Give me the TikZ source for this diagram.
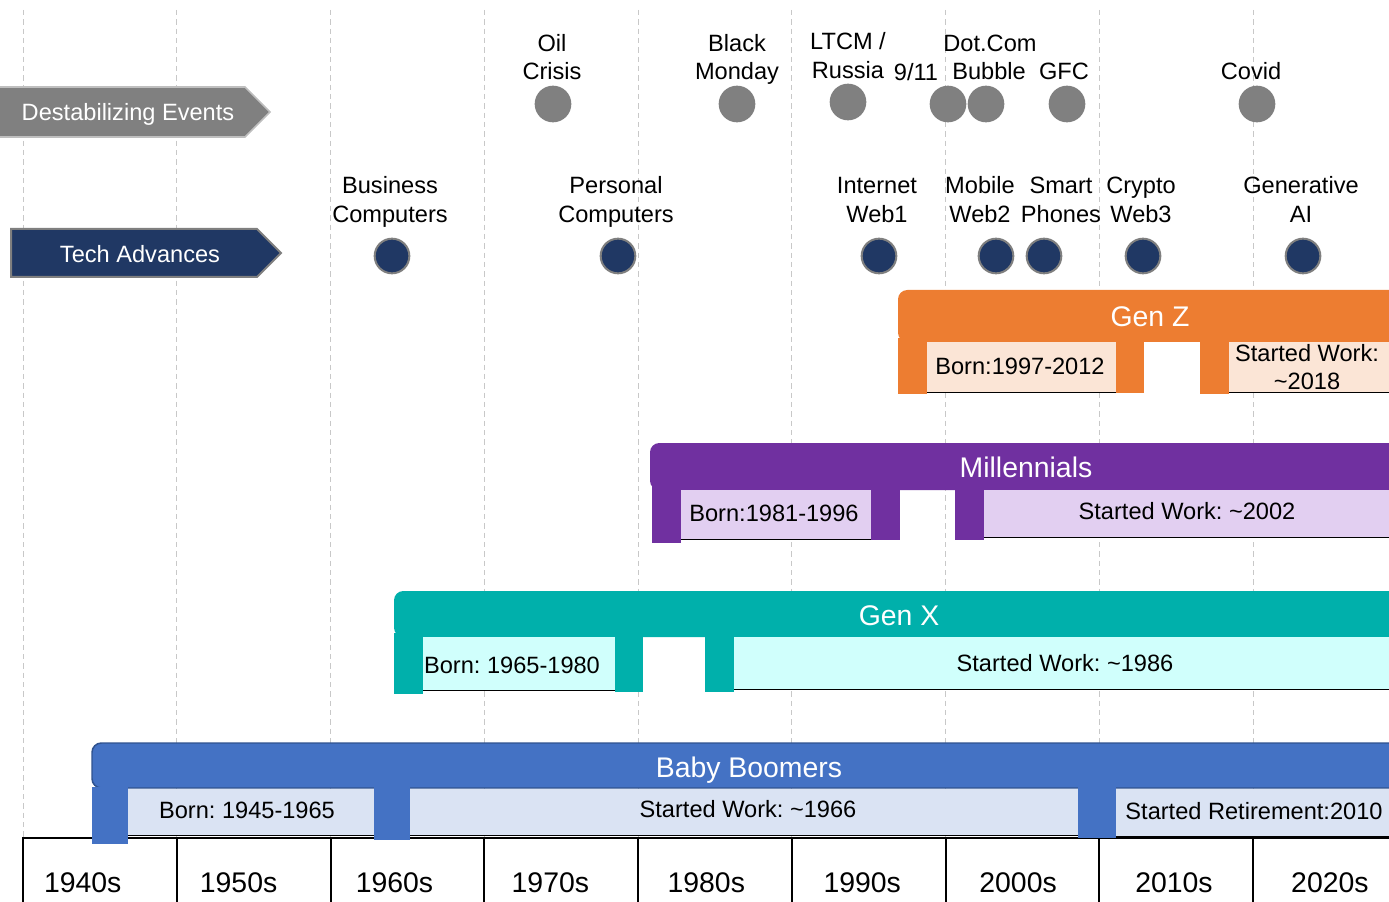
\documentclass[tikz,border=0pt]{standalone}
\usepackage{fontspec}
\setmainfont{Liberation Sans}
\frenchspacing

\definecolor{gridgray}{HTML}{C8C8C8}
\definecolor{evgray}{HTML}{808080}
\definecolor{bannergray}{HTML}{808080}
\definecolor{bannerline}{HTML}{BFBFBF}
\definecolor{navy}{HTML}{203864}
\definecolor{navyline}{HTML}{7F7F7F}
\definecolor{genzc}{HTML}{ED7D31}
\definecolor{genzl}{HTML}{FBE5D6}
\definecolor{millc}{HTML}{7030A0}
\definecolor{milll}{HTML}{E2CFF1}
\definecolor{genxc}{HTML}{00B0AB}
\definecolor{genxl}{HTML}{D0FFFC}
\definecolor{boomc}{HTML}{4472C4}
\definecolor{booml}{HTML}{DAE3F3}
\definecolor{boomline}{HTML}{2F528F}

\begin{document}
\begin{tikzpicture}[x=0.75pt,y=-0.75pt,
  every node/.style={inner sep=0pt,outer sep=0pt},
  lbl/.style={anchor=base,font=\fontsize{17.7}{21}\selectfont},
  big/.style={anchor=base,font=\fontsize{21.3}{25}\selectfont},
  wlbl/.style={lbl,text=white},
  wbig/.style={big,text=white},
  gridline/.style={draw=gridgray,line width=0.75pt,dash pattern=on 4pt off 3pt},
  tabline/.style={draw=black,line width=1.5pt},
  evdot/.style={circle,fill=evgray,minimum size=27.5pt},
  techdot/.style={circle,fill=navy,draw=navyline,line width=1.5pt,minimum size=26pt},
  boxline/.style={draw=black,line width=1pt},
  rbar/.style={rounded corners=7pt},
]
\useasboundingbox (0,0) rectangle (1389,902);
\clip (0,0) rectangle (1389,902);

% decade grid and table
\foreach \i in {0,...,8} {
  \draw[gridline] (23+153.75*\i,10) -- (23+153.75*\i,838);
  \draw[tabline] (23+153.75*\i,838) -- (23+153.75*\i,905);
}
\draw[tabline] (22,838) -- (1395,838);
\foreach \d [count=\i from 0] in {1940s,1950s,1960s,1970s,1980s,1990s,2000s,2010s,2020s}
  \node[big,anchor=base west] (dec\i) at (44+155.9*\i,892) {\d};

% row banners
\draw[fill=bannergray,draw=bannerline,line width=1.2pt]
  (-5,87) -- (245,87) -- (270,112) -- (245,137) -- (-5,137) -- cycle;
\node[wlbl] (destab) at (128,120.5) {Destabilizing Events};
\draw[fill=navy,draw=navyline,line width=1.5pt]
  (11,229) -- (257,229) -- (281,253) -- (257,277) -- (11,277) -- cycle;
\node[wlbl] (techadv) at (140,262.5) {Tech Advances};

% destabilizing events
\node[lbl] (oilA) at (552,51.5) {Oil};
\node[lbl] (oilB) at (552,79.5) {Crisis};
\node[evdot] (oil) at (553,104) {};
\node[lbl] (blkA) at (737,51.5) {Black};
\node[lbl] (blkB) at (737,79.5) {Monday};
\node[evdot] (blk) at (737,104) {};
\node[lbl] (ltcmA) at (848,49.5) {LTCM /};
\node[lbl] (ltcmB) at (848,78.5) {Russia};
\node[evdot] (ltcm) at (848,102) {};
\node[lbl] (nineB) at (916,80.5) {9/11};
\node[evdot] (nine) at (948,104) {};
\node[lbl] (dotA) at (990,51.5) {Dot.Com};
\node[lbl] (dotB) at (989,79.5) {Bubble};
\node[evdot] (dot) at (986,104) {};
\node[lbl] (gfcB) at (1064,79.5) {GFC};
\node[evdot] (gfc) at (1067,104) {};
\node[lbl] (covB) at (1251,79.5) {Covid};
\node[evdot] (cov) at (1257,104) {};

% tech advances
\foreach \nm/\lx/\dx/\la/\lb in {bus/390/392/Business/Computers,
    pc/616/618/Personal/Computers, web1/877/879/Internet/Web1,
    web2/980/996/Mobile/Web2, phone/1061/1044/Smart/Phones,
    web3/1141/1143/Crypto/Web3, genai/1301/1303/Generative/AI} {
  \node[lbl] (\nm A) at (\lx,193.5) {\la};
  \node[lbl] (\nm B) at (\lx,222.5) {\lb};
  \node[techdot] (\nm) at (\dx,256) {};
}

% Gen Z
\fill[genzc,rbar] (898,290) rectangle (1430,342);
\fill[genzl] (927,342) rectangle (1116,392);
\draw[boxline] (927,392.5) -- (1131,392.5);
\fill[genzl] (1229,342) rectangle (1430,392);
\draw[boxline] (1229,392.5) -- (1430,392.5);
\fill[genzc] (898,338) rectangle (927,394);
\fill[genzc] (1116,338) rectangle (1144,393);
\fill[genzc] (1200,338) rectangle (1229,394);
\node[wbig] (genz) at (1150,327) {Gen Z};
\node[lbl] (genzborn) at (1020,374.5) {Born:1997-2012};
\node[lbl] (genzworkA) at (1307,361) {Started Work:};
\node[lbl] (genzworkB) at (1307,389.5) {\textasciitilde 2018};

% Millennials
\fill[millc,rbar] (650,443) rectangle (1430,490);
\fill[milll] (681,490) rectangle (871,539);
\draw[boxline] (681,539.5) -- (871,539.5);
\fill[milll] (984,490) rectangle (1430,537);
\draw[boxline] (984,537.5) -- (1430,537.5);
\fill[millc] (652,486) rectangle (681,543);
\fill[millc] (871,486) rectangle (900,540);
\fill[millc] (955,486) rectangle (984,540);
\node[wbig] (mill) at (1026,477) {Millennials};
\node[lbl] (millborn) at (774,521.7) {Born:1981-1996};
\node[lbl] (millwork) at (1187,519) {Started Work: \textasciitilde 2002};

% Gen X
\fill[genxc,rbar] (394,591) rectangle (1430,637);
\fill[genxl] (423,637) rectangle (615,690);
\draw[boxline] (423,690.5) -- (615,690.5);
\fill[genxl] (734,637) rectangle (1430,689);
\draw[boxline] (734,689.5) -- (1430,689.5);
\fill[genxc] (394,633) rectangle (423,694);
\fill[genxc] (615,633) rectangle (643,692);
\fill[genxc] (705,633) rectangle (734,692);
\node[wbig] (genx) at (899,625) {Gen X};
\node[lbl] (genxborn) at (512,673) {Born: 1965-1980};
\node[lbl] (genxwork) at (1065,671) {Started Work: \textasciitilde 1986};

% Baby Boomers
\draw[fill=boomc,draw=boomline,line width=1.1pt,rbar] (92,743) rectangle (1430,788);
\fill[booml] (128,789) rectangle (374,835);
\draw[boxline] (128,835.5) -- (374,835.5);
\fill[booml] (410,789) rectangle (1078,835);
\draw[boxline] (410,835.5) -- (1078,835.5);
\fill[booml] (1116,789) rectangle (1430,836);
\draw[boxline] (1116,836.5) -- (1430,836.5);
\fill[boomc] (92,787) rectangle (128,844);
\fill[boomc] (374,787) rectangle (410,840);
\fill[boomc] (1078,787) rectangle (1116,838);
\node[wbig] (boom) at (749,777) {Baby Boomers};
\node[lbl] (boomborn) at (247,818) {Born: 1945-1965};
\node[lbl] (boomwork) at (748,817.5) {Started Work: \textasciitilde 1966};
\node[lbl] (boomret) at (1254,819) {Started Retirement:2010};
\end{tikzpicture}
\end{document}
